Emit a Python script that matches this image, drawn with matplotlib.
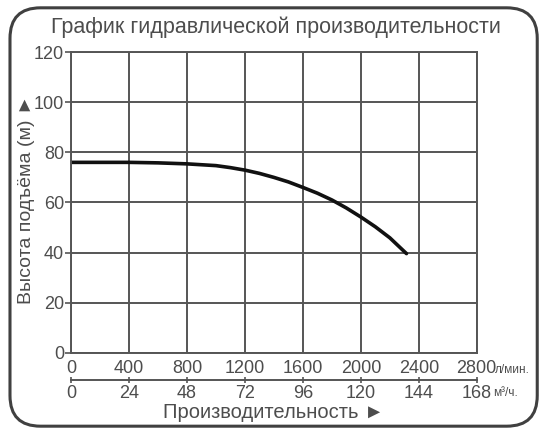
import matplotlib.pyplot as plt
from matplotlib.patches import FancyBboxPatch
from matplotlib.transforms import blended_transform_factory

plt.rcParams['font.family'] = ['Liberation Sans', 'DejaVu Sans']

# curve
flow_lmin = [0, 200, 400, 600, 800, 1000, 1100, 1200, 1300, 1400, 1500, 1600,
             1700, 1800, 1900, 2000, 2100, 2200, 2315]
head_m = [76, 76, 76, 75.8, 75.4, 74.7, 73.9, 72.9, 71.6, 70.0, 68.2, 66.0,
          63.7, 61.0, 57.8, 54.2, 50.3, 45.9, 39.6]

lmin_ticks = [0, 400, 800, 1200, 1600, 2000, 2400, 2800]
m3h_labels = ['0', '24', '48', '72', '96', '120', '144', '168']
head_ticks = [0, 20, 40, 60, 80, 100, 120]

grey = '#555555'
txt = '#4d4d4d'

fig = plt.figure(figsize=(5.55, 4.34), dpi=100)
ax = fig.add_axes([0.128, 0.187, 0.731, 0.693])

# rounded frame round the whole chart
frame = FancyBboxPatch((0.018, 0.018), 0.95, 0.964, transform=fig.transFigure,
                       boxstyle='round,pad=0,rounding_size=0.055',
                       fill=False, ec='#404040', lw=2.2, mutation_aspect=555/434)
fig.patches.append(frame)

ax.plot(flow_lmin, head_m, color='#111111', lw=2.6, solid_capstyle='round')

ax.set_xlim(0, 2800)
ax.set_ylim(0, 120)
ax.set_xticks(lmin_ticks)
ax.set_yticks(head_ticks)
ax.grid(True, color=grey, lw=1.4)
for s in ax.spines.values():
    s.set_color(grey)
    s.set_linewidth(1.4)
ax.tick_params(axis='x', length=0, labelbottom=False)
ax.tick_params(axis='y', direction='out', length=4, width=1.2, color=grey,
               labelsize=13, labelcolor=txt, pad=1)

# upper row: л/мин
tr = blended_transform_factory(ax.transData, ax.transAxes)
for v in lmin_ticks:
    ax.text(v, -0.053, str(v), transform=tr, ha='center', va='center',
            fontsize=13, color=txt)
ax.annotate('л/мин.', xy=(2800, -0.053), xycoords=tr, xytext=(13, -1),
            textcoords='offset points', ha='left', va='center',
            fontsize=8.5, color=txt)

# lower row: м³/ч on a second line
sec = ax.secondary_xaxis(-0.09)
sec.set_xticks(lmin_ticks)
sec.set_xticklabels(m3h_labels)
sec.spines['bottom'].set_color(grey)
sec.spines['bottom'].set_linewidth(1.4)
sec.tick_params(direction='inout', length=5, width=1.2, color=grey,
                labelsize=13, labelcolor=txt, pad=1)
ax.annotate('м³/ч.', xy=(2800, -0.128), xycoords=tr, xytext=(12, -1),
            textcoords='offset points', ha='left', va='center',
            fontsize=8.5, color=txt)

ax.text(0.5, -0.198, 'Производительность ►', transform=ax.transAxes,
        ha='center', va='center', fontsize=14.5, color=txt)
# rotated, so ► points up
ax.set_ylabel('Высота подъёма (м) ►', fontsize=14, color=txt)
ax.yaxis.set_label_coords(-0.088, 0.51)

fig.text(0.497, 0.937, 'График гидравлической производительности',
         ha='center', va='center', fontsize=15.5, color=txt)

fig.savefig('out.png', dpi=100)
